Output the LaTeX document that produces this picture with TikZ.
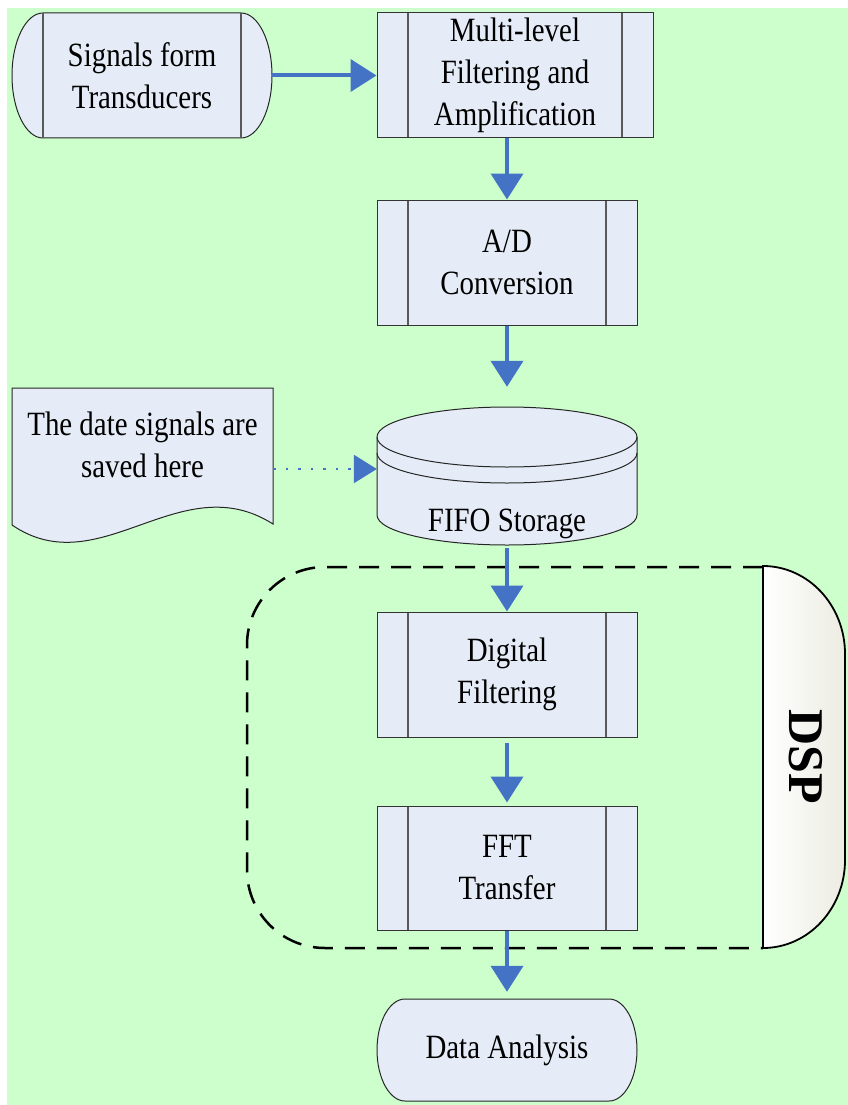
\documentclass[tikz,border=0pt]{standalone}
\usepackage{fontspec}
\setmainfont{Liberation Serif}[FakeStretch=0.85]
\newfontfamily\dspfont{Liberation Serif}
\usetikzlibrary{arrows.meta}

\definecolor{bggreen}{RGB}{204,255,204}
\definecolor{boxfill}{RGB}{230,236,247}
\definecolor{flowblue}{RGB}{68,114,196}
\definecolor{dspgray}{RGB}{236,236,226}

\tikzset{
  txt/.style={align=center, font=\fontsize{34}{42}\selectfont},
  procbox/.style={txt, draw=black!80, line width=1pt, fill=boxfill,
    minimum width=260pt, minimum height=125pt,
    path picture={
      \draw[black!65, line width=1.2pt]
        ([xshift=31pt]path picture bounding box.north west) -- ([xshift=31pt]path picture bounding box.south west)
        ([xshift=-31pt]path picture bounding box.north east) -- ([xshift=-31pt]path picture bounding box.south east);
    }},
  shapeline/.style={draw=black!85, line width=1pt, fill=boxfill},
  flow/.style={flowblue, line width=4pt, -{Triangle[length=26pt,width=32pt]}},
  dotflow/.style={flowblue, line width=2.5pt, dash pattern=on 2.5pt off 10pt, -{Triangle[length=23pt,width=28pt]}},
}

\begin{document}
\begin{tikzpicture}[x=1pt, y=-1pt]
  % Background
  \useasboundingbox (0,0) rectangle (848,1105);
  \fill[bggreen] (7,8) rectangle (848,1105);

  % Signals from the transducers
  \path[shapeline] (43,13) -- (241,13) arc[start angle=-90, end angle=90, x radius=31, y radius=62.5]
    -- (43,138) arc[start angle=90, end angle=270, x radius=31, y radius=62.5] -- cycle;
  \draw[black!65, line width=1.2pt] (43,13) -- (43,138) (241,13) -- (241,138);
  \node[txt, minimum width=260pt, minimum height=125pt] (sig) at (142,75.5) {Signals form\\Transducers};

  % Filtering and conversion
  \node[procbox, minimum width=276pt] (mlf) at (515,75.5) {Multi-level\\Filtering and\\Amplification};
  \node[procbox] (ad) at (507,262.5) {A/D\\Conversion};

  % FIFO storage
  \path[shapeline] (377,437) -- (377,515) arc[start angle=180, end angle=0, x radius=130, y radius=30]
    -- (637,437) arc[start angle=0, end angle=-180, x radius=130, y radius=30] -- cycle;
  \draw[black!85, line width=1pt] (377,437) arc[start angle=180, end angle=0, x radius=130, y radius=30];
  \draw[black!85, line width=1pt] (377,453) arc[start angle=180, end angle=0, x radius=130, y radius=30];
  \node[minimum width=260pt, minimum height=124pt] (fifo) at (507,469) {};
  \node[txt, anchor=base] (fifolbl) at (507,531) {FIFO Storage};

  % Note
  \path[shapeline] (12,388) -- (273,388) -- (273,524) .. controls (180,465) and (100,585) .. (12,525) -- cycle;
  \node[txt, minimum width=261pt] (note) at (142.5,445) {The date signals are\\saved here};

  % DSP region
  \draw[black, line width=2.5pt, dash pattern=on 20pt off 12pt, rounded corners=78pt]
    (763,567) -- (247,567) -- (247,948) -- (763,948);
  \draw[line width=1.8pt, left color=white, right color=dspgray] (763,566) -- (763,948)
    arc[start angle=90, end angle=0, x radius=82, y radius=88] -- (845,654)
    arc[start angle=0, end angle=-90, x radius=82, y radius=88] -- cycle;
  \node[rotate=-90, font=\dspfont\bfseries\fontsize{50}{60}\selectfont] (dsp) at (806,757) {DSP};

  \node[procbox] (dig) at (507,674.5) {Digital\\Filtering};
  \node[procbox, minimum height=124pt] (fft) at (507,868) {FFT\\Transfer};

  % Data analysis
  \path[shapeline] (405,999) -- (609,999) arc[start angle=-90, end angle=90, x radius=28, y radius=51]
    -- (405,1101) arc[start angle=90, end angle=270, x radius=28, y radius=51] -- cycle;
  \node[txt, minimum width=260pt, minimum height=102pt] (da) at (507,1050) {Data Analysis};

  % Connectors
  \draw[flow] (sig.east) -- (mlf.west);
  \draw[flow] (ad.north |- mlf.south) -- (ad.north);
  \draw[flow, shorten >=20pt] (ad.south) -- (fifo.north);
  \draw[dotflow] (note.east |- fifo.west) -- (fifo.west);
  \draw[flow, shorten <=17pt] (fifo.south) -- (dig.north);
  \draw[flow, shorten <=5pt, shorten >=3pt] (dig.south) -- (fft.north);
  \draw[flow, shorten >=7pt] (fft.south) -- (da.north);
\end{tikzpicture}
\end{document}
